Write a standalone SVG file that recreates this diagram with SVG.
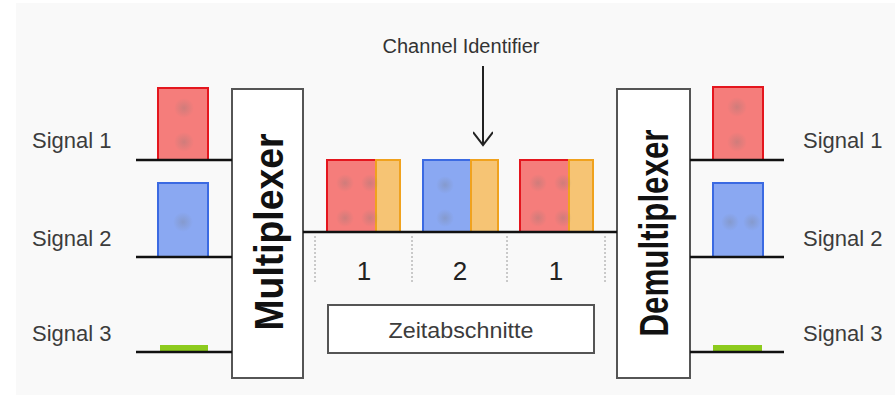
<svg xmlns="http://www.w3.org/2000/svg" width="895" height="402" viewBox="0 0 895 402">
  <defs>
    <radialGradient id="spot">
      <stop offset="0" stop-color="#7a7a7a" stop-opacity="0.3"/>
      <stop offset="1" stop-color="#7a7a7a" stop-opacity="0"/>
    </radialGradient>
    <marker id="vee" viewBox="0 0 20 20" refX="18" refY="10" markerWidth="20" markerHeight="20" markerUnits="userSpaceOnUse" orient="auto">
      <path d="M5,0 L18,10 L5,20" fill="none" stroke="#222" stroke-width="2"/>
    </marker>
    <style>
      .label { font-family: "Liberation Sans", Arial, sans-serif; font-size: 22px; fill: #3c3c3c; }
      .small { font-family: "Liberation Sans", Arial, sans-serif; font-size: 20px; fill: #333; }
      .big { font-family: "Liberation Sans", Arial, sans-serif; font-weight: bold; font-size: 41px; fill: #111; }
      .digit { font-family: "Liberation Sans", Arial, sans-serif; font-size: 26px; fill: #222; }
      .box { fill: #fff; stroke: #555; stroke-width: 2; }
      .wire { stroke: #111; stroke-width: 2.5; fill: none; }
      .red { fill: #f57d7b; stroke: #e4161e; stroke-width: 2; }
      .blue { fill: #8aa8f2; stroke: #3b6ae2; stroke-width: 2; }
      .orange { fill: #f6c474; stroke: #f0a21e; stroke-width: 2; }
      .green { fill: #8dcb1e; }
      .divider { stroke: #9a9a9a; stroke-width: 1; stroke-dasharray: 2 2; }
    </style>
  </defs>

  <!-- canvas -->
  <rect width="895" height="402" fill="#ffffff"/>
  <rect x="16" y="3" width="879" height="392" fill="#f9f9f9"/>

  <!-- input signals -->
  <g id="signal1-in">
    <text class="label" x="32" y="148">Signal 1</text>
    <rect class="red" x="158" y="88" width="50" height="72"/>
    <circle cx="184" cy="108" r="10" fill="url(#spot)"/>
    <circle cx="184" cy="142" r="10" fill="url(#spot)"/>
  </g>
  <g id="signal2-in">
    <text class="label" x="32" y="246">Signal 2</text>
    <rect class="blue" x="158" y="183" width="50" height="74"/>
    <circle cx="183" cy="222" r="10" fill="url(#spot)"/>
  </g>
  <g id="signal3-in">
    <text class="label" x="32" y="341">Signal 3</text>
    <rect class="green" x="160" y="345" width="48" height="6"/>
  </g>

  <!-- multiplexer -->
  <g id="multiplexer">
    <rect class="box" x="232" y="89" width="71" height="289"/>
    <text class="big" transform="translate(283,232) rotate(-90)" text-anchor="middle" textLength="197" lengthAdjust="spacingAndGlyphs">Multiplexer</text>
  </g>

  <!-- multiplexed frames -->
  <g id="frame1">
    <rect class="red" x="327" y="160" width="50" height="72"/>
    <rect class="orange" x="376" y="160" width="24" height="72"/>
    <circle cx="345" cy="183" r="9" fill="url(#spot)"/>
    <circle cx="345" cy="218" r="9" fill="url(#spot)"/>
    <circle cx="370" cy="183" r="9" fill="url(#spot)"/>
    <circle cx="370" cy="218" r="9" fill="url(#spot)"/>
  </g>
  <g id="frame2">
    <rect class="blue" x="423" y="160" width="48" height="72"/>
    <rect class="orange" x="471" y="160" width="27" height="72"/>
    <circle cx="445" cy="185" r="9" fill="url(#spot)"/>
    <circle cx="445" cy="218" r="9" fill="url(#spot)"/>
  </g>
  <g id="frame3">
    <rect class="red" x="520" y="160" width="50" height="72"/>
    <rect class="orange" x="569" y="160" width="24" height="72"/>
    <circle cx="538" cy="183" r="9" fill="url(#spot)"/>
    <circle cx="538" cy="218" r="9" fill="url(#spot)"/>
    <circle cx="563" cy="183" r="9" fill="url(#spot)"/>
    <circle cx="563" cy="218" r="9" fill="url(#spot)"/>
  </g>

  <!-- time slots -->
  <g id="slots">
    <line class="divider" x1="315" y1="236" x2="315" y2="282"/>
    <line class="divider" x1="412" y1="236" x2="412" y2="282"/>
    <line class="divider" x1="507" y1="236" x2="507" y2="282"/>
    <line class="divider" x1="605" y1="236" x2="605" y2="282"/>
    <text class="digit" x="364" y="280" text-anchor="middle">1</text>
    <text class="digit" x="460" y="280" text-anchor="middle">2</text>
    <text class="digit" x="556" y="280" text-anchor="middle">1</text>
  </g>

  <g id="zeitabschnitte">
    <rect class="box" x="328" y="305" width="266" height="48"/>
    <text class="label" x="461" y="338" text-anchor="middle" textLength="145" lengthAdjust="spacingAndGlyphs">Zeitabschnitte</text>
  </g>

  <g id="channel-identifier">
    <text class="small" x="461" y="53" text-anchor="middle" textLength="157" lengthAdjust="spacingAndGlyphs">Channel Identifier</text>
  </g>

  <!-- demultiplexer -->
  <g id="demultiplexer">
    <rect class="box" x="617" y="89" width="73" height="289"/>
    <text class="big" transform="translate(668,233) rotate(-90)" text-anchor="middle" textLength="207" lengthAdjust="spacingAndGlyphs">Demultiplexer</text>
  </g>

  <!-- output signals -->
  <g id="signal1-out">
    <rect class="red" x="713" y="87" width="50" height="73"/>
    <circle cx="737" cy="107" r="10" fill="url(#spot)"/>
    <circle cx="737" cy="142" r="10" fill="url(#spot)"/>
    <text class="label" x="803" y="148">Signal 1</text>
  </g>
  <g id="signal2-out">
    <rect class="blue" x="713" y="183" width="50" height="74"/>
    <circle cx="730" cy="222" r="9" fill="url(#spot)"/>
    <circle cx="752" cy="222" r="9" fill="url(#spot)"/>
    <text class="label" x="803" y="246">Signal 2</text>
  </g>
  <g id="signal3-out">
    <rect class="green" x="713" y="345" width="49" height="6"/>
    <text class="label" x="803" y="341">Signal 3</text>
  </g>

  <!-- connectors -->
  <g id="connectors">
    <line class="wire" x1="136" y1="160" x2="232" y2="160"/>
    <line class="wire" x1="136" y1="257" x2="232" y2="257"/>
    <line class="wire" x1="136" y1="352" x2="232" y2="352"/>
    <line class="wire" x1="303" y1="232" x2="617" y2="232"/>
    <line class="wire" x1="690" y1="160" x2="784" y2="160"/>
    <line class="wire" x1="690" y1="257" x2="784" y2="257"/>
    <line class="wire" x1="690" y1="352" x2="784" y2="352"/>
    <line x1="483" y1="66" x2="483" y2="145" stroke="#222" stroke-width="2" marker-end="url(#vee)"/>
  </g>
</svg>
